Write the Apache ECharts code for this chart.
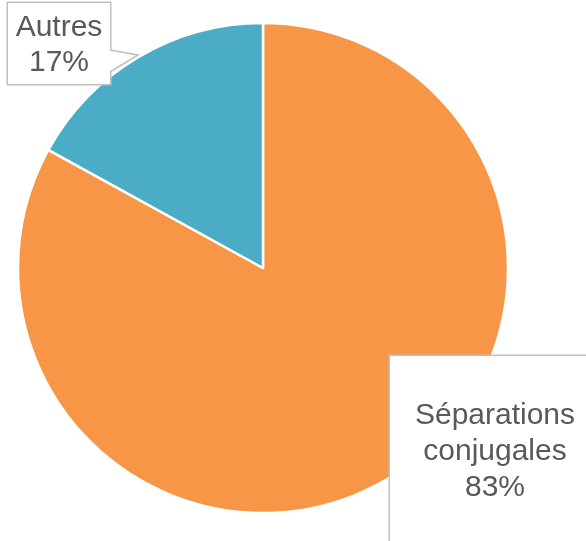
<!DOCTYPE html>
<html>
  <head>
    <meta charset="utf-8">
    <script src="https://cdn.jsdelivr.net/npm/echarts@6/dist/echarts.min.js"></script>
    <style>
      html, body { margin: 0; padding: 0; background: #fff; }
    </style>
  </head>
  <body>
    <div id="chart" style="width:586px;height:541px;"></div>
    <script>
      var categories = ['Séparations\nconjugales', 'Autres'];
      var shares = [83, 17];
      var colors = ['#F79646', '#4BACC6'];

      // callout boxes: centre x, top y, width, padding and line height of each label box
      var boxes = [
        { x: 495, y: 356, w: 210, pad: [42, 0, 40, 0], lh: 36 },
        { x: 59, y: 3, w: 102, pad: [7, 0, 4, 0], lh: 35 }
      ];

      var chart = echarts.init(document.getElementById('chart'), null, { renderer: 'canvas' });

      var option = {
        animation: false,
        color: colors,
        series: [{
          type: 'pie',
          center: [263, 268],
          radius: 245,
          startAngle: 90,
          clockwise: true,
          avoidLabelOverlap: false,
          itemStyle: { borderColor: '#fff', borderWidth: 2.5 },
          labelLine: { show: false },
          label: {
            show: true,
            formatter: function (p) { return p.name + '\n' + p.value + '%'; },
            fontFamily: 'Liberation Sans',
            fontSize: 30,
            color: '#595959',
            align: 'center',
            verticalAlign: 'top',
            backgroundColor: '#fff',
            borderColor: '#BFBFBF',
            borderWidth: 1.5
          },
          labelLayout: function (p) {
            var b = boxes[p.dataIndex];
            return { x: b.x, y: b.y, align: 'center', verticalAlign: 'top' };
          },
          data: categories.map(function (c, i) {
            var b = boxes[i];
            return {
              name: c,
              value: shares[i],
              label: { width: b.w, padding: b.pad, lineHeight: b.lh }
            };
          })
        }],
        graphic: [
          {
            type: 'polygon', z: 100,
            shape: { points: [[109, 50], [138, 55], [109, 72]] },
            style: { fill: '#fff', stroke: null }
          },
          {
            type: 'polyline', z: 101,
            shape: { points: [[110, 50], [138, 55], [110, 72]] },
            style: { stroke: '#BFBFBF', lineWidth: 1.5, fill: null }
          }
        ]
      };

      chart.setOption(option);
    </script>
  </body>
</html>
